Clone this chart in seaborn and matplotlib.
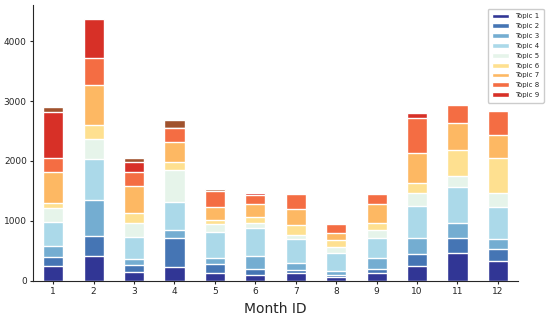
import numpy as np
import pandas as pd
import matplotlib
matplotlib.use("Agg")
import matplotlib.pyplot as plt
import seaborn as sns

months = [1, 2, 3, 4, 5, 6, 7, 8, 9, 10, 11, 12]
topic_names = ["Topic 1", "Topic 2", "Topic 3", "Topic 4", "Topic 5",
               "Topic 6", "Topic 7", "Topic 8", "Topic 9", "Topic 10"]

topic1 = [240, 417, 144, 239, 130, 100, 139, 72, 128, 250, 461, 339]
topic2 = [155, 333, 123, 472, 150, 94, 44, 28, 66, 194, 250, 189]
topic3 = [190, 594, 94, 139, 100, 223, 123, 72, 184, 278, 261, 166]
topic4 = [400, 684, 378, 461, 440, 461, 388, 300, 333, 528, 600, 545]
topic5 = [228, 333, 222, 540, 130, 83, 73, 100, 139, 211, 178, 222]
topic6 = [83, 245, 167, 128, 70, 111, 167, 111, 111, 178, 433, 583]
topic7 = [517, 655, 455, 344, 210, 211, 261, 111, 322, 489, 445, 389]
topic8 = [233, 450, 228, 233, 270, 150, 250, 150, 161, 583, 300, 406]
topic9 = [778, 656, 167, 0, 0, 28, 0, 0, 0, 95, 30, 10]
topic10 = [84, 0, 72, 128, 40, 0, 0, 0, 0, 0, 0, 0]

topic_colors = ["#313695", "#4575b4", "#74add1", "#abd9e9", "#e6f4ea",
                "#fee090", "#fdb863", "#f46d43", "#d73027", "#a0522d"]

topics = [topic1, topic2, topic3, topic4, topic5,
          topic6, topic7, topic8, topic9, topic10]

# cumulative heights so layered bars look stacked
cum = np.cumsum(np.array(topics), axis=0)

sns.set_style("ticks")
plt.rcParams["font.family"] = ["DejaVu Sans"]

fig = plt.figure(figsize=(5.5, 3.21), dpi=100)
ax = fig.add_axes([0.06, 0.125, 0.882, 0.859])

for i in range(len(topics) - 1, -1, -1):
    df = pd.DataFrame({"month": months, "count": cum[i]})
    sns.barplot(data=df, x="month", y="count", color=topic_colors[i],
                width=0.5, saturation=1, ax=ax, label=topic_names[i])

h, l = ax.get_legend_handles_labels()
order = [l.index(n) for n in topic_names[:9]]
ax.legend([h[k] for k in order], [l[k] for k in order], loc="upper right",
          bbox_to_anchor=(1.06, 1.0), fontsize=5, handlelength=2.4,
          handleheight=0.7, labelspacing=0.55, borderpad=0.7,
          handletextpad=0.8, framealpha=1)

ax.set_ylim(0, 4600)
ax.set_yticks([0, 1000, 2000, 3000, 4000])
ax.set_xlabel("Month ID", fontsize=10)
ax.set_ylabel("")
ax.tick_params(labelsize=6.5, length=2.5, pad=2)
sns.despine(ax=ax)

fig.savefig("out.png", dpi=100)
